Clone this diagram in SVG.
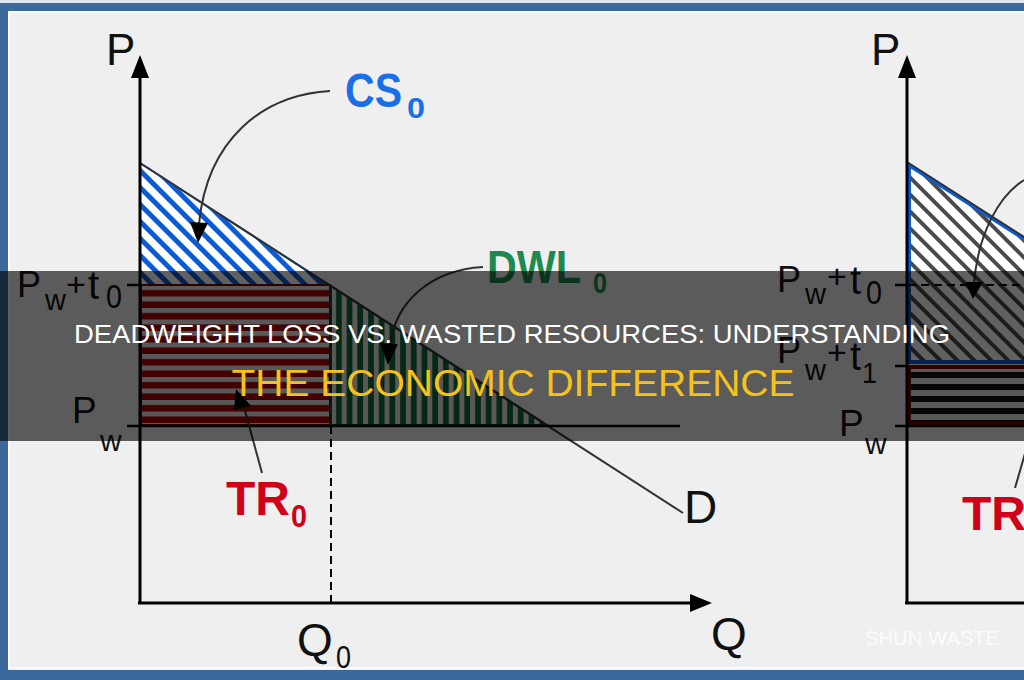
<svg xmlns="http://www.w3.org/2000/svg" width="1024" height="680" viewBox="0 0 1024 680">
<style>
.ax{font-family:"Liberation Sans",Arial,sans-serif;fill:#111;}
.lbl{font-family:"Liberation Sans",Arial,sans-serif;font-weight:bold;}
.axis{stroke:#000;stroke-width:3;fill:none;}
.tick{stroke:#000;stroke-width:2.5;}
.dem{stroke:#333;stroke-width:2;fill:none;}
.conn{stroke:#333;stroke-width:2;fill:none;}
.head{fill:#000;}
.title{font-family:"Liberation Sans",Arial,sans-serif;text-anchor:middle;}
</style>
<defs>
<pattern id="csHatch" patternUnits="userSpaceOnUse" width="12" height="12" patternTransform="rotate(-45)">
<rect width="12" height="12" fill="#fff"/>
<rect width="5" height="12" fill="#0b5bd6"/>
</pattern>
<pattern id="grayHatch" patternUnits="userSpaceOnUse" width="12" height="12" patternTransform="rotate(-45)">
<rect width="12" height="12" fill="#fff"/>
<rect width="4" height="12" fill="#4a4a4a"/>
</pattern>
<pattern id="trHatch" patternUnits="userSpaceOnUse" width="12" height="11.5" y="285">
<rect width="12" height="11.5" fill="#e8e8e8"/>
<rect y="5" width="12" height="6.5" fill="#b00000"/>
</pattern>
<pattern id="blkHatch" patternUnits="userSpaceOnUse" width="12" height="12" y="367">
<rect width="12" height="12" fill="#e8e8e8"/>
<rect y="5" width="12" height="6" fill="#111"/>
</pattern>
<pattern id="dwlHatch" patternUnits="userSpaceOnUse" width="10.7" height="12" x="331">
<rect width="10.7" height="12" fill="#e8e8e8"/>
<rect x="5" width="5.7" height="12" fill="#0c6a34"/>
</pattern>
</defs>

<g id="frame">
<rect width="1024" height="680" fill="#efefef"/>
<rect x="0" y="0" width="1024" height="3" fill="#dde5ee"/>
<rect x="0" y="3" width="1024" height="8" fill="#3a6a9c"/>
<rect x="0" y="3" width="8" height="677" fill="#3a6a9c"/>
<rect x="0" y="670" width="1024" height="10" fill="#3a6a9c"/>
<path d="M9,12 H1024 M9,12 V668 H1024" stroke="#fbfbfb" stroke-width="2" fill="none"/>
</g>

<g id="left-chart">
<g id="cs-area"><polygon points="140,163 140,285 329,285" fill="url(#csHatch)" stroke="#0b5bd6" stroke-width="2"/></g>
<g id="tr-area"><rect x="141" y="285" width="189" height="140" fill="url(#trHatch)" stroke="#6a0000" stroke-width="2"/></g>
<g id="dwl-area"><polygon points="331,286 331,425 547,425" fill="url(#dwlHatch)" stroke="#0a4a25" stroke-width="2"/></g>
<g id="demand-left"><line class="dem" x1="140" y1="163" x2="683" y2="513"/></g>
<line x1="140" y1="426" x2="680" y2="426" stroke="#000" stroke-width="2.5"/>
<line x1="331" y1="426" x2="331" y2="603" stroke="#000" stroke-width="2" stroke-dasharray="8,5"/>
<g id="axes-left">
<line class="axis" x1="140" y1="604" x2="140" y2="74"/>
<polygon class="head" points="140,55 131,78 149,78"/>
<line class="axis" x1="138" y1="603" x2="694" y2="603"/>
<polygon class="head" points="712,603 690,594 690,612"/>
<line class="tick" x1="127" y1="285" x2="140" y2="285"/>
<line class="tick" x1="127" y1="426" x2="140" y2="426"/>
</g>
<g id="labels-left">
<text class="ax" x="106" y="65" font-size="44">P</text>
<text class="ax" x="17" y="297" font-size="36">P</text>
<text class="ax" x="45" y="310" font-size="29">w</text>
<text class="ax" x="66" y="296" font-size="34">+</text>
<text class="ax" x="88" y="299" font-size="40">t</text>
<text class="ax" x="106" y="308" font-size="33" textLength="16" lengthAdjust="spacingAndGlyphs">0</text>
<text class="ax" x="72" y="423" font-size="37">P</text>
<text class="ax" x="100" y="451" font-size="30">w</text>
<text class="ax" x="684" y="523" font-size="46">D</text>
<text class="ax" x="711" y="650" font-size="46">Q</text>
<text class="ax" x="297" y="656" font-size="46">Q</text>
<text class="ax" x="336" y="668" font-size="32" textLength="15" lengthAdjust="spacingAndGlyphs">0</text>
</g>
<g id="cs-label"><text class="lbl" fill="#1a6fe6" x="345" y="107" font-size="48" textLength="57" lengthAdjust="spacingAndGlyphs">CS</text><text class="lbl" fill="#1a6fe6" x="407" y="118" font-size="30" textLength="18" lengthAdjust="spacingAndGlyphs">0</text></g>
<g id="dwl-label"><text class="lbl" fill="#1f8a50" x="487" y="283" font-size="46" textLength="94" lengthAdjust="spacingAndGlyphs">DWL</text><text class="lbl" fill="#1f8a50" x="593" y="293" font-size="30" textLength="14" lengthAdjust="spacingAndGlyphs">0</text></g>
<g id="tr-label"><text class="lbl" fill="#d0021b" x="226" y="515" font-size="48" textLength="64" lengthAdjust="spacingAndGlyphs">TR</text><text class="lbl" fill="#d0021b" x="291" y="527" font-size="32" textLength="16" lengthAdjust="spacingAndGlyphs">0</text></g>
</g>

<g id="right-chart">
<g id="hatch-right"><polygon points="909,165 1026,240 1026,362 909,362" fill="url(#grayHatch)" stroke="#0b5bd6" stroke-width="4"/></g>
<g id="tr-right"><rect x="909" y="367" width="118" height="57" fill="url(#blkHatch)" stroke="#7a0000" stroke-width="4"/></g>
<line class="dem" x1="907" y1="162" x2="1024" y2="237"/>
<line x1="895" y1="285" x2="1024" y2="285" stroke="#000" stroke-width="2" stroke-dasharray="8,5"/>
<line x1="907" y1="426" x2="1024" y2="426" stroke="#000" stroke-width="2.5"/>
<g id="axes-right">
<line class="axis" x1="907" y1="604" x2="907" y2="74"/>
<polygon class="head" points="907,55 898,78 916,78"/>
<line class="axis" x1="905" y1="603" x2="1024" y2="603"/>
<line class="tick" x1="895" y1="285" x2="907" y2="285"/>
<line class="tick" x1="895" y1="366" x2="907" y2="366"/>
<line class="tick" x1="895" y1="426" x2="907" y2="426"/>
</g>
<g id="labels-right">
<text class="ax" x="871" y="65" font-size="44">P</text>
<text class="ax" x="777" y="292" font-size="36">P</text>
<text class="ax" x="805" y="304" font-size="29">w</text>
<text class="ax" x="827" y="288" font-size="34">+</text>
<text class="ax" x="850" y="294" font-size="40">t</text>
<text class="ax" x="866" y="304" font-size="33" textLength="16" lengthAdjust="spacingAndGlyphs">0</text>
<text class="ax" x="777" y="363" font-size="36">P</text>
<text class="ax" x="805" y="380" font-size="29">w</text>
<text class="ax" x="827" y="364" font-size="34">+</text>
<text class="ax" x="850" y="370" font-size="40">t</text>
<text class="ax" x="862" y="383" font-size="30" textLength="15" lengthAdjust="spacingAndGlyphs">1</text>
<text class="ax" x="839" y="436" font-size="37">P</text>
<text class="ax" x="865" y="454" font-size="30">w</text>
</g>
<g id="tr-label-right"><text class="lbl" fill="#d0021b" x="962" y="530" font-size="48">TR</text></g>
</g>

<g id="connectors">
<path class="conn" d="M330,91 C262,95 207,140 199,224"/>
<polygon class="head" points="190,222 208,223 198,243"/>
<path class="conn" d="M483,267 C432,270 396,300 390,345"/>
<polygon class="head" points="380,343 398,344 388,365"/>
<path class="conn" d="M262,473 L244,407"/>
<polygon class="head" points="236,389 234,410 251,406"/>
<path class="conn" d="M1015,488 L1026,450"/>
<path class="conn" d="M1024,180 C1000,195 978,232 974,284"/>
<polygon class="head" points="965,282 983,282 973,299"/>
</g>

<g id="overlay">
<rect x="0" y="271" width="1024" height="170" fill="#000" opacity="0.62"/>
<text class="title" x="512" y="343" font-size="26" fill="#ffffff" textLength="876" lengthAdjust="spacingAndGlyphs">DEADWEIGHT LOSS VS. WASTED RESOURCES: UNDERSTANDING</text>
<text class="title" x="513" y="396" font-size="37" fill="#f5c21b" textLength="563" lengthAdjust="spacingAndGlyphs">THE ECONOMIC DIFFERENCE</text>
</g>

<g id="watermark">
<text x="865" y="645" font-family="Liberation Sans, Arial, sans-serif" font-size="20" fill="#ffffff" opacity="0.85" textLength="134" lengthAdjust="spacingAndGlyphs">SHUN WASTE</text>
</g>
</svg>
